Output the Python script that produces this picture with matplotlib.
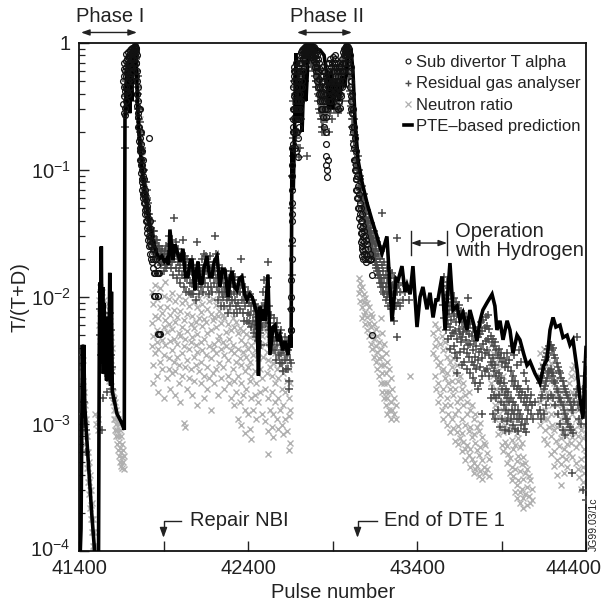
import math
import matplotlib
matplotlib.use('Agg')
import matplotlib.pyplot as plt
from matplotlib.lines import Line2D
from matplotlib.ticker import FixedLocator, FuncFormatter, LogLocator, NullFormatter
import matplotlib.transforms as mtransforms

plt.rcParams['font.family'] = ['Liberation Sans', 'DejaVu Sans']
plt.rcParams['mathtext.fontset'] = 'custom'
plt.rcParams['mathtext.rm'] = 'Liberation Sans'
plt.rcParams['mathtext.it'] = 'Liberation Sans:italic'
plt.rcParams['mathtext.bf'] = 'Liberation Sans:bold'

# ---- data (pulse number, T/(T+D)) ----
# PTE-based prediction (thick black line)
pte_pulse = [41400, 41412, 41420, 41424, 41428, 41434, 41445, 41460, 41475, 41490, 41500,
             41515, 41520, 41524, 41528, 41532, 41536, 41540, 41544, 41548, 41553, 41558, 41563,
             41570, 41576, 41582, 41587, 41592, 41597, 41610, 41625, 41640, 41655, 41668,
             41672, 41677, 41682, 41688, 41694, 41700, 41706, 41712, 41718, 41724, 41730, 41736,
             41741, 41746, 41752, 41760, 41770, 41782, 41795, 41808, 41820, 41833, 41846, 41860,
             41875, 41890, 41905, 41918, 41930,
             41938, 41956, 41968, 41998, 42015, 42030, 42045, 42058, 42069, 42086, 42095, 42104,
             42116, 42128, 42140, 42157, 42172, 42187, 42200, 42217, 42234, 42248, 42264, 42282,
             42294, 42305, 42320, 42335, 42350, 42364, 42380, 42394, 42410, 42424, 42440, 42453,
             42462, 42471, 42480, 42489, 42500, 42518, 42530, 42548, 42560, 42575, 42589, 42605,
             42619, 42637, 42649, 42655,
             42660, 42668, 42678, 42684, 42696, 42708, 42720, 42731, 42743, 42755, 42779, 42802,
             42826, 42850, 42867, 42879, 42891, 42903, 42921, 42938, 42956, 42974, 42992, 43009,
             43021, 43033, 43051, 43075, 43104, 43134, 43163, 43193, 43222, 43252, 43276, 43288,
             43311, 43329, 43341, 43359, 43376, 43400, 43418, 43435, 43459, 43477, 43495, 43512,
             43524, 43548, 43566, 43595, 43613, 43637, 43654, 43672, 43696, 43713, 43737, 43755,
             43773, 43790, 43814, 43844, 43861, 43873, 43891, 43909, 43933, 43950, 43968, 43992,
             44009, 44033, 44051, 44069, 44098, 44128, 44151, 44169, 44187, 44205, 44222, 44246,
             44264, 44288, 44305, 44323, 44347, 44364, 44382, 44400]
pte_value = [5e-5, 1.5e-4, 0.0042, 0.0018, 0.0042, 0.0014, 0.0008, 0.0004, 0.0002, 0.00011, 6e-5,
             6e-5, 0.004, 0.013, 0.003, 0.025, 0.004, 0.012, 0.0025, 0.009, 0.003, 0.007, 0.0022,
             0.006, 0.0025, 0.0155, 0.002, 0.011, 0.0018, 0.0015, 0.0012, 0.0011, 0.001, 0.0009,
             0.25, 0.35, 0.6, 0.3, 0.7, 0.28, 0.55, 0.35, 0.65, 0.8, 0.9, 0.88,
             0.6, 0.35, 0.22, 0.16, 0.11, 0.08, 0.06, 0.045, 0.036, 0.03, 0.025, 0.022,
             0.02, 0.021, 0.019, 0.02, 0.018,
             0.034, 0.0195, 0.026, 0.019, 0.024, 0.0145, 0.0145, 0.0195, 0.0195, 0.0113, 0.016, 0.019,
             0.0128, 0.0128, 0.017, 0.021, 0.0145, 0.0145, 0.019, 0.021, 0.012, 0.0165, 0.0163, 0.010,
             0.014, 0.016, 0.012, 0.0113, 0.014, 0.0145, 0.0105, 0.0095, 0.0105, 0.010, 0.0085, 0.0075,
             0.0024, 0.0084, 0.0065, 0.008, 0.0065, 0.015, 0.0035, 0.0058, 0.006, 0.0045, 0.005, 0.0038,
             0.0045, 0.0035, 0.005, 0.004,
             0.15, 0.07, 0.3, 0.83, 0.25, 0.5, 0.2, 0.6, 0.35, 0.75, 0.88, 0.9,
             0.88, 0.8, 0.55, 0.3, 0.6, 0.3, 0.5, 0.35, 0.55, 0.45, 0.8, 0.9,
             0.6, 0.25, 0.12, 0.08, 0.055, 0.04, 0.03, 0.022, 0.03, 0.0065, 0.014, 0.0135,
             0.0175, 0.011, 0.0125, 0.0105, 0.0175, 0.0058, 0.01, 0.012, 0.008, 0.0108, 0.0069, 0.0095,
             0.0095, 0.0145, 0.0055, 0.0185, 0.0079, 0.0085, 0.0066, 0.0075, 0.0055, 0.0079, 0.006, 0.0045,
             0.0065, 0.0079, 0.009, 0.0105, 0.0085, 0.0055, 0.0065, 0.0046, 0.0065, 0.0055, 0.0036, 0.005,
             0.0046, 0.0035, 0.0029, 0.0031, 0.0025, 0.0021, 0.0029, 0.0032, 0.0055, 0.0069, 0.0058, 0.006,
             0.0048, 0.005, 0.0042, 0.0046, 0.0027, 0.0016, 0.0011, 0.004]

# Sub divertor T alpha (open circles): (pulse, values at that pulse)
sub_divertor = [
    (41660, [0.33, 0.5]), (41664, [0.45, 0.62, 0.28]), (41668, [0.7, 0.38, 0.55]),
    (41672, [0.27, 0.31, 0.42, 0.6]), (41676, [0.55, 0.72, 0.35]), (41680, [0.65, 0.45, 0.82]),
    (41684, [0.42, 0.75, 0.58]), (41688, [0.5, 0.68, 0.85]), (41692, [0.62, 0.4, 0.78]),
    (41696, [0.8, 0.55, 0.7]), (41700, [0.45, 0.88, 0.65]), (41704, [0.7, 0.52, 0.82]),
    (41708, [0.58, 0.9, 0.75]), (41712, [0.85, 0.65, 0.5]), (41716, [0.65, 0.92, 0.78]),
    (41720, [0.9, 0.75, 0.6]), (41724, [0.75, 0.93, 0.85]), (41728, [0.92, 0.88, 0.7]),
    (41731, [0.93, 0.86, 0.95]), (41734, [0.9, 0.94, 0.8]), (41737, [0.85, 0.92, 0.7]),
    (41740, [0.7, 0.9, 0.55]), (41743, [0.5, 0.8, 0.4]), (41746, [0.4, 0.32, 0.6]),
    (41749, [0.35, 0.26]), (41752, [0.28, 0.22, 0.45]), (41755, [0.22, 0.3, 0.17]),
    (41758, [0.3, 0.18, 0.14]), (41761, [0.15, 0.2, 0.12]), (41764, [0.2, 0.11, 0.14]),
    (41767, [0.12, 0.095, 0.16]), (41770, [0.1, 0.14, 0.08]), (41773, [0.085, 0.11, 0.07]),
    (41776, [0.09, 0.065, 0.12]), (41780, [0.075, 0.1, 0.06]), (41784, [0.065, 0.055, 0.085]),
    (41788, [0.06, 0.07, 0.048]), (41792, [0.055, 0.045, 0.065]), (41796, [0.05, 0.04, 0.058]),
    (41800, [0.045, 0.035, 0.052]), (41805, [0.04, 0.032, 0.048]), (41810, [0.036, 0.028, 0.042]),
    (41814, [0.18, 0.03, 0.025]), (41818, [0.033, 0.026, 0.04]), (41822, [0.028, 0.022, 0.035]),
    (41827, [0.025, 0.03, 0.02]), (41832, [0.027, 0.022, 0.019]), (41838, [0.024, 0.02, 0.017]),
    (41845, [0.024, 0.0155, 0.0101]), (41852, [0.02, 0.0155, 0.0101]), (41860, [0.018, 0.0155]),
    (41866, [0.0155, 0.0101, 0.0051]), (41874, [0.0155, 0.0051]), (41882, [0.0051]),
    (42652, [0.0055]), (42654, [0.008, 0.0055]), (42656, [0.0136, 0.01]),
    (42658, [0.02, 0.028, 0.04]), (42660, [0.055, 0.07, 0.045]), (42662, [0.09, 0.11, 0.15]),
    (42665, [0.2, 0.25, 0.16]), (42668, [0.3, 0.45, 0.22]), (42671, [0.55, 0.38, 0.6]),
    (42674, [0.3, 0.5, 0.65, 0.2]), (42678, [0.4, 0.25, 0.6, 0.15]), (42682, [0.5, 0.3, 0.7, 0.2]),
    (42686, [0.35, 0.55, 0.14, 0.25]), (42690, [0.45, 0.3, 0.6, 0.2]), (42694, [0.25, 0.5, 0.35, 0.126]),
    (42698, [0.6, 0.4, 0.3, 0.18]), (42702, [0.35, 0.7, 0.5, 0.22]), (42706, [0.55, 0.3, 0.8, 0.4]),
    (42710, [0.7, 0.45, 0.6, 0.25]), (42714, [0.85, 0.55, 0.35, 0.7]), (42718, [0.6, 0.8, 0.45]),
    (42722, [0.88, 0.7, 0.5]), (42726, [0.9, 0.75, 0.6]), (42730, [0.92, 0.8, 0.65]),
    (42735, [0.93, 0.85, 0.7]), (42740, [0.92, 0.88, 0.75]), (42745, [0.94, 0.9, 0.8]),
    (42750, [0.93, 0.88, 0.82]), (42755, [0.95, 0.9, 0.85]), (42760, [0.93, 0.88, 0.8]),
    (42765, [0.94, 0.9, 0.85]), (42770, [0.95, 0.88, 0.8]), (42775, [0.93, 0.9, 0.82]),
    (42780, [0.94, 0.87, 0.78]), (42785, [0.92, 0.85, 0.75]), (42790, [0.93, 0.84, 0.72]),
    (42795, [0.9, 0.8, 0.65]), (42800, [0.88, 0.75, 0.6]), (42805, [0.85, 0.7, 0.55]),
    (42810, [0.8, 0.65, 0.5]), (42815, [0.75, 0.6, 0.45]), (42820, [0.7, 0.52, 0.4]),
    (42825, [0.62, 0.45, 0.35]), (42830, [0.55, 0.4, 0.3]), (42835, [0.65, 0.35, 0.5]),
    (42840, [0.45, 0.3, 0.6]), (42845, [0.4, 0.55, 0.26]), (42850, [0.5, 0.35, 0.22]),
    (42855, [0.45, 0.3, 0.6]), (42860, [0.26, 0.2, 0.16, 0.4]), (42864, [0.13, 0.11, 0.35, 0.55]),
    (42868, [0.1, 0.088, 0.3, 0.5]), (42872, [0.12, 0.5, 0.7]), (42877, [0.45, 0.6, 0.35]),
    (42882, [0.7, 0.5, 0.38]), (42887, [0.55, 0.42, 0.75]), (42892, [0.65, 0.48, 0.35]),
    (42897, [0.5, 0.7, 0.4]), (42902, [0.6, 0.45, 0.78]), (42907, [0.7, 0.5, 0.4]),
    (42912, [0.55, 0.75, 0.42]), (42917, [0.65, 0.48, 0.8]), (42922, [0.5, 0.7, 0.38]),
    (42927, [0.6, 0.45, 0.32]), (42932, [0.4, 0.55, 0.3]), (42937, [0.35, 0.5, 0.65]),
    (42942, [0.45, 0.6, 0.31]), (42947, [0.7, 0.5, 0.4]), (42952, [0.55, 0.38, 0.65]),
    (42957, [0.6, 0.45, 0.75]), (42962, [0.7, 0.5, 0.85]), (42967, [0.8, 0.6, 0.9]),
    (42972, [0.85, 0.7, 0.92]), (42977, [0.9, 0.8, 0.93]), (42982, [0.92, 0.85, 0.95]),
    (42987, [0.94, 0.88, 0.8]), (42992, [0.93, 0.85, 0.7]), (42997, [0.9, 0.75, 0.6]),
    (43002, [0.8, 0.6, 0.45]), (43007, [0.65, 0.5, 0.35]), (43012, [0.5, 0.38, 0.3]),
    (43017, [0.4, 0.28, 0.22]), (43022, [0.3, 0.2, 0.16]), (43027, [0.22, 0.15, 0.12]),
    (43032, [0.18, 0.12, 0.1]), (43037, [0.14, 0.1, 0.085]), (43042, [0.11, 0.085, 0.07]),
    (43047, [0.09, 0.07, 0.06]), (43052, [0.075, 0.06, 0.05]), (43057, [0.065, 0.05, 0.042]),
    (43062, [0.055, 0.045, 0.036]), (43067, [0.05, 0.04, 0.032, 0.027]),
    (43072, [0.045, 0.035, 0.028, 0.024]), (43077, [0.04, 0.032, 0.025, 0.021]),
    (43082, [0.036, 0.03, 0.023, 0.02]), (43088, [0.033, 0.027, 0.022]), (43094, [0.03, 0.024, 0.02]),
    (43100, [0.028, 0.022, 0.019]), (43106, [0.026, 0.021]), (43112, [0.024, 0.02]),
    (43120, [0.022, 0.0195]), (43128, [0.02]), (43136, [0.0149, 0.005]),
]

# Residual gas analyser (dark grey plus)
rga = [
    (41420, [0.0035, 0.0012]), (41430, [0.0015, 0.001]), (41440, [0.0009, 0.0006]),
    (41525, [0.008, 0.005]), (41530, [0.0035, 0.011]), (41535, [0.0065, 0.0009]),
    (41540, [0.0045, 0.0016, 0.003]), (41546, [0.0075, 0.0055]), (41552, [0.0025, 0.004]),
    (41558, [0.006, 0.0035]), (41564, [0.005, 0.0018, 0.0028]), (41570, [0.0042, 0.0065]),
    (41576, [0.003, 0.0045]), (41582, [0.0022, 0.0075]), (41588, [0.0035, 0.0055, 0.0025]),
    (41594, [0.0019, 0.0028]), (41600, [0.0016]),
    (41672, [0.15, 0.22]), (41676, [0.3, 0.45]), (41680, [0.5, 0.38]), (41684, [0.4, 0.62]),
    (41688, [0.6, 0.48]), (41692, [0.45, 0.7]), (41696, [0.65, 0.52]), (41700, [0.35, 0.6]),
    (41704, [0.55, 0.75]), (41708, [0.75, 0.62]), (41712, [0.5, 0.8]), (41716, [0.7, 0.58]),
    (41720, [0.6, 0.82]), (41724, [0.8, 0.68]), (41728, [0.7, 0.85]), (41732, [0.85, 0.72]),
    (41736, [0.6, 0.78]), (41740, [0.75, 0.5]), (41744, [0.45, 0.6]), (41748, [0.55, 0.35]),
    (41752, [0.3, 0.4]), (41756, [0.25, 0.3]), (41760, [0.2, 0.24]), (41765, [0.16, 0.19]),
    (41770, [0.12, 0.15]), (41775, [0.14, 0.11]), (41780, [0.1, 0.085]), (41785, [0.085, 0.1]),
    (41790, [0.07, 0.08]), (41795, [0.08, 0.062]), (41800, [0.06, 0.07]), (41805, [0.05, 0.058]),
    (41810, [0.055, 0.045]), (41815, [0.045, 0.038]), (41820, [0.04, 0.034]), (41825, [0.035, 0.03]),
    (41830, [0.04, 0.028]), (41835, [0.03, 0.026]), (41840, [0.028, 0.033]), (41845, [0.033, 0.024]),
    (41850, [0.025, 0.022]), (41855, [0.023, 0.028]), (41860, [0.028, 0.02]), (41866, [0.021, 0.025]),
    (41872, [0.025, 0.019]), (41878, [0.02, 0.023]), (41885, [0.022, 0.018]), (41892, [0.019, 0.024]),
    (41900, [0.021, 0.016]), (41908, [0.018, 0.023]),
    (41915, [0.025, 0.017]), (41922, [0.018, 0.022]), (41930, [0.03, 0.02]), (41937, [0.02, 0.026]),
    (41944, [0.017, 0.022]), (41951, [0.028, 0.019]), (41958, [0.024, 0.015]), (41965, [0.02, 0.042]),
    (41972, [0.027, 0.017]), (41979, [0.022, 0.014]), (41986, [0.019, 0.024]), (41993, [0.016, 0.021]),
    (42000, [0.013, 0.018]), (42007, [0.022, 0.015]), (42014, [0.019, 0.028]), (42021, [0.012, 0.017]),
    (42028, [0.021, 0.014]), (42035, [0.018, 0.011]), (42042, [0.014, 0.02]), (42049, [0.017, 0.011]),
    (42056, [0.013, 0.018]), (42063, [0.016, 0.0105]), (42070, [0.02, 0.013]), (42077, [0.017, 0.0105]),
    (42084, [0.012, 0.015]), (42091, [0.016, 0.0095]), (42098, [0.027, 0.014]), (42105, [0.012, 0.018]),
    (42112, [0.014, 0.0105]), (42119, [0.016, 0.012]), (42126, [0.02, 0.013]), (42133, [0.017, 0.011]),
    (42140, [0.022, 0.014]), (42147, [0.018, 0.013]), (42154, [0.016, 0.021]), (42161, [0.019, 0.012]),
    (42168, [0.016, 0.0105]), (42175, [0.021, 0.014]), (42182, [0.017, 0.012]), (42189, [0.015, 0.011]),
    (42196, [0.019, 0.013]), (42203, [0.03, 0.016]), (42210, [0.022, 0.014]), (42217, [0.018, 0.012]),
    (42224, [0.014, 0.0095]), (42231, [0.016, 0.011]), (42238, [0.013, 0.0085]), (42245, [0.017, 0.011]),
    (42252, [0.014, 0.01]), (42259, [0.012, 0.0085]), (42266, [0.016, 0.011]), (42273, [0.013, 0.0095]),
    (42280, [0.011, 0.0075]), (42287, [0.014, 0.01]), (42294, [0.012, 0.0085]), (42301, [0.016, 0.0105]),
    (42308, [0.013, 0.0095]), (42315, [0.011, 0.0075]), (42322, [0.0145, 0.0095]), (42329, [0.012, 0.0085]),
    (42336, [0.0105, 0.0075]), (42343, [0.0135, 0.009]), (42350, [0.011, 0.008]), (42357, [0.02, 0.0125]),
    (42364, [0.0145, 0.0095]), (42371, [0.011, 0.0075]), (42378, [0.0095, 0.0065]), (42385, [0.012, 0.0085]),
    (42392, [0.0095, 0.0065]), (42399, [0.011, 0.0075]), (42406, [0.009, 0.0062]), (42413, [0.0105, 0.0072]),
    (42420, [0.0085, 0.0058]), (42427, [0.0095, 0.0065]), (42434, [0.0078, 0.0052]), (42441, [0.0088, 0.006]),
    (42448, [0.007, 0.0048]), (42455, [0.0082, 0.0056]), (42462, [0.0065, 0.0045]), (42469, [0.0078, 0.0052]),
    (42476, [0.006, 0.0042]), (42483, [0.0085, 0.0058]), (42490, [0.011, 0.0072]), (42497, [0.0135, 0.0085]),
    (42504, [0.0095, 0.0062]), (42511, [0.012, 0.0075]), (42518, [0.019, 0.014]), (42525, [0.0085, 0.0055]),
    (42532, [0.0062, 0.0042]), (42539, [0.0072, 0.0048]), (42546, [0.0055, 0.0038]), (42553, [0.0068, 0.0045]),
    (42560, [0.0058, 0.0038]), (42567, [0.0048, 0.0032]), (42574, [0.0062, 0.0042]), (42581, [0.0052, 0.0035]),
    (42588, [0.0045, 0.003]), (42595, [0.0055, 0.0036]), (42602, [0.0045, 0.003]), (42609, [0.0038, 0.0026]),
    (42616, [0.0048, 0.0032]), (42623, [0.004, 0.0027]), (42630, [0.0045, 0.0035]), (42637, [0.0027, 0.0038]),
    (42644, [0.0022, 0.0019]), (42650, [0.0032]),
    (42655, [0.003, 0.008]), (42658, [0.015, 0.025]), (42661, [0.05, 0.09]), (42664, [0.13, 0.18]),
    (42667, [0.25, 0.35]), (42670, [0.15, 0.45]), (42675, [0.5, 0.3, 0.2]), (42680, [0.4, 0.25, 0.6]),
    (42685, [0.3, 0.18, 0.5]), (42690, [0.4, 0.2, 0.28]), (42695, [0.2, 0.32, 0.15]), (42700, [0.3, 0.45, 0.126]),
    (42705, [0.15, 0.25, 0.4]), (42710, [0.45, 0.3, 0.6]), (42715, [0.25, 0.55, 0.35]), (42720, [0.6, 0.4, 0.75]),
    (42725, [0.35, 0.5, 0.8]), (42730, [0.7, 0.55, 0.85]), (42735, [0.5, 0.75, 0.85]), (42740, [0.8, 0.65, 0.88]),
    (42745, [0.6, 0.82, 0.9]), (42750, [0.85, 0.7, 0.13]), (42755, [0.7, 0.88, 0.8]), (42760, [0.88, 0.75, 0.82]),
    (42765, [0.75, 0.85, 0.9]), (42770, [0.85, 0.7, 0.8]), (42775, [0.7, 0.8, 0.88]), (42780, [0.8, 0.65, 0.75]),
    (42785, [0.65, 0.78, 0.7]), (42790, [0.75, 0.6, 0.7]), (42795, [0.55, 0.7, 0.62]), (42800, [0.7, 0.5, 0.6]),
    (42805, [0.5, 0.62, 0.45]), (42810, [0.6, 0.45, 0.55]), (42815, [0.4, 0.52, 0.35]), (42820, [0.5, 0.38, 0.3]),
    (42825, [0.35, 0.45, 0.28]), (42830, [0.3, 0.4, 0.25]), (42835, [0.45, 0.28, 0.22]), (42840, [0.25, 0.35, 0.2]),
    (42845, [0.35, 0.22, 0.3]), (42850, [0.2, 0.3, 0.25]), (42855, [0.3, 0.2, 0.4]), (42860, [0.4, 0.25, 0.35]),
    (42865, [0.25, 0.5, 0.3]), (42870, [0.5, 0.3, 0.42]), (42875, [0.3, 0.45, 0.35]), (42880, [0.2, 0.38, 0.55]),
    (42885, [0.35, 0.48, 0.28]), (42890, [0.45, 0.3, 0.6]), (42895, [0.25, 0.42, 0.52]), (42900, [0.55, 0.35, 0.45]),
    (42905, [0.35, 0.5, 0.62]), (42910, [0.6, 0.42, 0.3]), (42915, [0.4, 0.55, 0.35]), (42920, [0.3, 0.48, 0.62]),
    (42925, [0.5, 0.35, 0.42]), (42930, [0.65, 0.45, 0.3]), (42935, [0.4, 0.55, 0.28]), (42940, [0.55, 0.35, 0.45]),
    (42945, [0.3, 0.48, 0.6]), (42950, [0.6, 0.4, 0.5]), (42955, [0.45, 0.62, 0.35]), (42960, [0.7, 0.5, 0.58]),
    (42965, [0.5, 0.68, 0.6]), (42970, [0.75, 0.6, 0.7]), (42975, [0.6, 0.78, 0.7]), (42980, [0.8, 0.65, 0.72]),
    (42985, [0.65, 0.82, 0.75]), (42990, [0.85, 0.7, 0.6]), (42995, [0.7, 0.8, 0.55]), (43000, [0.8, 0.55, 0.45]),
    (43005, [0.55, 0.42, 0.35]), (43010, [0.4, 0.32, 0.28]), (43015, [0.3, 0.25, 0.22]), (43020, [0.22, 0.19, 0.25]),
    (43025, [0.25, 0.17, 0.2]), (43030, [0.17, 0.14, 0.19]), (43035, [0.19, 0.12, 0.15]), (43040, [0.14, 0.11, 0.12]),
    (43045, [0.12, 0.095, 0.105]), (43050, [0.13, 0.085, 0.1]), (43055, [0.1, 0.08, 0.09]), (43060, [0.085, 0.07, 0.075]),
    (43065, [0.09, 0.065, 0.072]), (43070, [0.07, 0.058, 0.062]), (43075, [0.075, 0.055, 0.06]), (43080, [0.06, 0.05, 0.052]),
    (43085, [0.065, 0.045, 0.05]), (43090, [0.05, 0.042, 0.045]), (43095, [0.055, 0.04, 0.043]), (43100, [0.045, 0.036, 0.04]),
    (43105, [0.048, 0.034, 0.038]), (43110, [0.04, 0.032, 0.035]), (43115, [0.042, 0.029, 0.033]), (43120, [0.035, 0.027, 0.03]),
    (43125, [0.038, 0.026, 0.029]), (43130, [0.032, 0.024, 0.027]), (43135, [0.03, 0.022, 0.025]), (43140, [0.028, 0.021, 0.023]),
    (43145, [0.033, 0.02, 0.022]), (43150, [0.026, 0.019, 0.021]), (43155, [0.029, 0.018, 0.02]), (43160, [0.024, 0.017, 0.019]),
    (43165, [0.027, 0.016, 0.018]), (43170, [0.022, 0.015, 0.017]), (43175, [0.025, 0.016, 0.014]), (43180, [0.02, 0.015, 0.013]),
    (43185, [0.023, 0.014, 0.012]), (43193, [0.046, 0.018, 0.013]), (43200, [0.016, 0.012, 0.011]), (43207, [0.019, 0.014, 0.0105]),
    (43214, [0.015, 0.012, 0.0095]), (43221, [0.017, 0.013, 0.01]), (43228, [0.014, 0.011, 0.0085]), (43235, [0.016, 0.012]),
    (43242, [0.013, 0.0105]), (43250, [0.0155, 0.011, 0.008]), (43258, [0.0125, 0.009]), (43266, [0.014, 0.0105, 0.0065]),
    (43274, [0.012, 0.0085]), (43282, [0.029, 0.011, 0.0048]), (43290, [0.0125, 0.009]), (43300, [0.011, 0.0085]),
    (43315, [0.0095, 0.013]), (43330, [0.011]), (43350, [0.0095]),
    (43555, [0.0122, 0.0087]), (43562, [0.0145, 0.0068]), (43569, [0.0103, 0.0079, 0.0055]),
    (43576, [0.0131, 0.0092]), (43583, [0.0096, 0.0061, 0.0047]), (43590, [0.0118, 0.0074]),
    (43597, [0.0085, 0.0058, 0.0039]), (43604, [0.0107, 0.0066, 0.0049]), (43611, [0.0079, 0.0052]),
    (43618, [0.0098, 0.0071, 0.0041]), (43625, [0.0082, 0.0054, 0.0036]), (43632, [0.0091, 0.0063]),
    (43637, [0.0025]), (43639, [0.0073, 0.0047, 0.0033]), (43646, [0.0086, 0.0056]),
    (43653, [0.0069, 0.0051, 0.0037]), (43660, [0.0078, 0.0044]), (43667, [0.0064, 0.0048, 0.0029]),
    (43674, [0.0075, 0.0053]), (43681, [0.0058, 0.0039, 0.0031]), (43688, [0.0069, 0.0046]),
    (43695, [0.0054, 0.0036, 0.0027]), (43702, [0.0098, 0.0063, 0.0042]), (43709, [0.0051, 0.0034]),
    (43716, [0.0061, 0.0043, 0.0025]), (43723, [0.0049, 0.0031]), (43730, [0.0057, 0.0038, 0.0023]),
    (43737, [0.0045, 0.0029]), (43744, [0.0053, 0.0034, 0.0021]), (43751, [0.0041, 0.0027]),
    (43758, [0.0048, 0.0032, 0.0019]), (43765, [0.0058, 0.0037]), (43772, [0.0051, 0.0028, 0.0021]),
    (43779, [0.0063, 0.0039]), (43785, [0.0012]), (43786, [0.0054, 0.0033, 0.0024]),
    (43793, [0.0066, 0.0043]), (43800, [0.0057, 0.0036, 0.0026]), (43807, [0.0069, 0.0045]),
    (43814, [0.0059, 0.0038, 0.0027]), (43821, [0.0072, 0.0047]), (43828, [0.0056, 0.0035, 0.0024]),
    (43835, [0.0049, 0.0031, 0.0016]), (43842, [0.0044, 0.0029, 0.0019]), (43849, [0.0047, 0.0033, 0.0012]),
    (43856, [0.0041, 0.0026, 0.0017]), (43863, [0.0044, 0.0029, 0.0011]), (43870, [0.0038, 0.0024, 0.0016]),
    (43877, [0.0035, 0.0022, 0.0013]), (43884, [0.0039, 0.0025, 0.0017]), (43891, [0.0033, 0.0021, 0.00095]),
    (43898, [0.0036, 0.0023, 0.0015]), (43905, [0.0031, 0.0019, 0.0011]), (43912, [0.0033, 0.0021, 0.0014]),
    (43919, [0.0028, 0.0017, 0.0009]), (43926, [0.003, 0.0019, 0.0013]), (43933, [0.0036, 0.0016, 0.00105]),
    (43940, [0.0028, 0.0018, 0.0012]), (43947, [0.0032, 0.0015, 0.00088]), (43954, [0.0026, 0.0016, 0.0011]),
    (43961, [0.0041, 0.0022, 0.0013]), (43968, [0.0024, 0.0015, 0.00098]), (43975, [0.0035, 0.002, 0.0012]),
    (43982, [0.0022, 0.0014, 0.00092]), (43989, [0.0029, 0.0019, 0.0011]), (43996, [0.002, 0.0013, 0.00088]),
    (44003, [0.0038, 0.0017, 0.0011]), (44010, [0.0019, 0.0012]), (44017, [0.0031, 0.0016, 0.00098]),
    (44024, [0.0018, 0.0011]), (44031, [0.0025, 0.0015, 0.00091]), (44038, [0.0017, 0.001]),
    (44045, [0.0022, 0.0014, 0.00087]), (44052, [0.0016, 0.0011]), (44059, [0.0019, 0.0013]), (44066, [0.0015]),
    (44073, [0.0017, 0.0012]), (44080, [0.0014]), (44087, [0.0011]), (44100, [0.0015]), (44115, [0.0012]),
    (44128, [0.0021, 0.0013]), (44135, [0.0024, 0.0016, 0.0011]), (44142, [0.0027, 0.0017]),
    (44149, [0.0029, 0.0019, 0.0012]), (44156, [0.0032, 0.002]), (44163, [0.0034, 0.0022, 0.0014]),
    (44170, [0.0036, 0.0023]), (44177, [0.0039, 0.0025, 0.0016]), (44184, [0.0041, 0.0026]),
    (44191, [0.0042, 0.0027, 0.0017]), (44198, [0.0038, 0.0024]), (44205, [0.004, 0.0025, 0.0016]),
    (44212, [0.0035, 0.0022]), (44219, [0.0033, 0.0021, 0.0014]), (44226, [0.003, 0.0019]),
    (44233, [0.0028, 0.0018, 0.0012]), (44240, [0.0026, 0.0016]), (44247, [0.0025, 0.0016, 0.001]),
    (44254, [0.0023, 0.0015]), (44261, [0.0022, 0.0014, 0.0009]), (44268, [0.002, 0.0013]),
    (44275, [0.0019, 0.0012, 0.00082]), (44282, [0.0018, 0.0011]), (44289, [0.0017, 0.0011]),
    (44296, [0.0016, 0.001]), (44303, [0.0015, 0.00095]), (44310, [0.0014, 0.0009]),
    (44317, [0.0013, 0.00041]), (44324, [0.0013, 0.00085]), (44331, [0.0015]), (44338, [0.0017]),
    (44347, [0.0048, 0.0019]), (44354, [0.0014]), (44361, [0.0011]), (44370, [0.001]),
    (44377, [0.0013]), (44382, [0.0003]), (44384, [0.0019]), (44391, [0.0024]), (44398, [0.0031, 0.00025]),
]

# Neutron ratio (light grey x)
neutron = [
    (41418, [0.0028, 0.002]), (41424, [0.0032, 0.0022, 0.0015]), (41430, [0.0018, 0.0012, 0.0009]),
    (41436, [0.0014, 0.001, 0.0007]), (41442, [0.0011, 0.0008, 0.0006]), (41448, [0.0008, 0.0006, 0.00045]),
    (41454, [0.0006, 0.00045, 0.00035]), (41460, [0.0005, 0.00035, 0.00028]), (41466, [0.0004, 0.0003, 0.00022]),
    (41472, [0.0003, 0.00023, 0.00018]), (41478, [0.00024, 0.00018, 0.00014]), (41484, [0.00018, 0.00014, 0.00011]),
    (41490, [0.00014, 0.00011]), (41496, [0.0012, 0.00011]), (41503, [0.001]), (41510, [0.0009, 0.0011]),
    (41520, [0.0095, 0.006]), (41525, [0.012, 0.0075, 0.0045]), (41530, [0.009, 0.0065, 0.004]),
    (41535, [0.011, 0.0055, 0.0035]), (41540, [0.008, 0.005, 0.003]), (41545, [0.0095, 0.006, 0.0042]),
    (41550, [0.0072, 0.0048, 0.0028]), (41555, [0.0085, 0.0055, 0.0036]), (41560, [0.0065, 0.0042, 0.0026]),
    (41565, [0.0075, 0.005, 0.0032]), (41570, [0.0058, 0.0038, 0.0024]), (41575, [0.0068, 0.0044, 0.0029]),
    (41580, [0.005, 0.0034, 0.0022]), (41585, [0.0065, 0.0042, 0.0027]), (41590, [0.0048, 0.0032, 0.002]),
    (41595, [0.004, 0.0026, 0.0018]), (41600, [0.0018, 0.0015]), (41606, [0.0016, 0.0013, 0.0011]),
    (41612, [0.0015, 0.0011, 0.0009]), (41618, [0.0013, 0.001, 0.0008]), (41624, [0.0012, 0.0009, 0.0007]),
    (41630, [0.0011, 0.0008, 0.00062]), (41636, [0.001, 0.00072, 0.00056]), (41642, [0.0009, 0.00065, 0.0005]),
    (41648, [0.0008, 0.0006, 0.00047]), (41654, [0.0007, 0.00055, 0.00045]), (41660, [0.00062, 0.0005]),
    (41666, [0.00056, 0.00044]),
    (41690, [0.45, 0.6]), (41705, [0.5, 0.7]), (41720, [0.65, 0.8]), (41735, [0.6, 0.75]),
    (41748, [0.45, 0.3]), (41760, [0.25, 0.17]), (41772, [0.13, 0.1]), (41785, [0.08, 0.065]),
    (41798, [0.055, 0.045]), (41810, [0.04, 0.032]), (41822, [0.03, 0.025]),
    (41830, [0.011, 0.0062, 0.0041]), (41840, [0.0088, 0.0049, 0.0029, 0.0021]), (41850, [0.0125, 0.0071, 0.0036]),
    (41860, [0.0096, 0.0055, 0.0044, 0.0024]), (41870, [0.0068, 0.0039, 0.0018]), (41880, [0.0118, 0.0083, 0.0052, 0.0031]),
    (41890, [0.0075, 0.0046, 0.0027]), (41900, [0.0101, 0.0058, 0.0035, 0.0016]), (41910, [0.0131, 0.0066, 0.0042]),
    (41920, [0.0084, 0.0053, 0.0023]), (41930, [0.0097, 0.0061, 0.0033, 0.0027]), (41940, [0.0072, 0.0045, 0.0019]),
    (41950, [0.0108, 0.0056, 0.0038, 0.0025]), (41960, [0.0079, 0.0047, 0.0031]), (41970, [0.0093, 0.0064, 0.0026, 0.0017]),
    (41980, [0.0069, 0.0043, 0.0034]), (41990, [0.0102, 0.0052, 0.0029, 0.0021]), (42000, [0.0077, 0.0049, 0.0015]),
    (42010, [0.0089, 0.0058, 0.0036, 0.0024]), (42020, [0.0066, 0.0041, 0.00102]), (42030, [0.0094, 0.0047, 0.0028, 0.00094]),
    (42040, [0.0073, 0.0054, 0.0032, 0.0019]), (42050, [0.0085, 0.0039, 0.0023]), (42060, [0.0106, 0.0061, 0.0044, 0.0027]),
    (42070, [0.0071, 0.0048, 0.0017]), (42080, [0.0091, 0.0057, 0.0034, 0.0022]), (42090, [0.0064, 0.0042, 0.0029]),
    (42100, [0.0083, 0.0051, 0.0037, 0.0014]), (42110, [0.0099, 0.0068, 0.0026]), (42120, [0.0076, 0.0044, 0.0031, 0.0021]),
    (42130, [0.0088, 0.0059, 0.0038]), (42140, [0.0067, 0.0047, 0.0024, 0.0016]), (42150, [0.0104, 0.0063, 0.0035]),
    (42160, [0.0081, 0.0052, 0.0028, 0.0019]), (42170, [0.0093, 0.0041, 0.0023]), (42180, [0.0074, 0.0055, 0.0033, 0.0013]),
    (42190, [0.0097, 0.0066, 0.0039, 0.0025]), (42200, [0.0069, 0.0043, 0.0021]), (42210, [0.0086, 0.0058, 0.0036, 0.0027]),
    (42220, [0.0112, 0.0071, 0.0046, 0.0017]), (42230, [0.0078, 0.0049, 0.003]), (42240, [0.0095, 0.0062, 0.0039, 0.0023]),
    (42250, [0.0072, 0.0044, 0.0028]), (42260, [0.0108, 0.0068, 0.0035, 0.0019]), (42270, [0.0084, 0.0053, 0.0041]),
    (42280, [0.0099, 0.0061, 0.0032, 0.0024]), (42290, [0.0077, 0.0047, 0.0021]), (42300, [0.0089, 0.0055, 0.0038, 0.0016]),
    (42310, [0.0068, 0.0042, 0.0027]), (42320, [0.0058, 0.0036, 0.0022, 0.0014]), (42330, [0.0063, 0.0031, 0.0018]),
    (42340, [0.0052, 0.0039, 0.0024, 0.0011]), (42350, [0.0057, 0.0033, 0.0015]), (42360, [0.0046, 0.0029, 0.0021, 0.00098]),
    (42370, [0.0054, 0.0037, 0.0017]), (42380, [0.0043, 0.0026, 0.0013, 0.00085]), (42390, [0.0051, 0.0034, 0.0019]),
    (42400, [0.0039, 0.0028, 0.0012]), (42410, [0.0048, 0.0031, 0.0022, 0.00092]), (42420, [0.0042, 0.0024, 0.0016, 0.00076]),
    (42430, [0.0055, 0.0035, 0.0013]), (42440, [0.0062, 0.0038, 0.0026, 0.0017]), (42450, [0.0069, 0.0045, 0.0021, 0.0011]),
    (42460, [0.0053, 0.0033, 0.0015]), (42470, [0.0061, 0.0041, 0.0027, 0.0018]), (42480, [0.0078, 0.0049, 0.0023, 0.0012]),
    (42490, [0.0087, 0.0056, 0.0034]), (42500, [0.0066, 0.0043, 0.0019, 0.00105]), (42510, [0.0058, 0.0037, 0.0025]),
    (42518, [0.00058]), (42520, [0.0051, 0.0032, 0.0016, 0.00088]), (42530, [0.0044, 0.0028, 0.0013]),
    (42540, [0.0039, 0.0024, 0.0018, 0.00095]), (42550, [0.0047, 0.003, 0.0012, 0.00079]), (42560, [0.0036, 0.0021, 0.0015]),
    (42570, [0.0042, 0.0027, 0.0011]), (42580, [0.0034, 0.0023, 0.0016, 0.00091]), (42590, [0.0045, 0.0029, 0.0013]),
    (42600, [0.0033, 0.0019, 0.00098]), (42610, [0.0038, 0.0025, 0.0014, 0.00083]), (42620, [0.0031, 0.0018, 0.0011]),
    (42630, [0.0035, 0.0022, 0.00088]), (42640, [0.0027, 0.0016, 0.00115, 0.00062]), (42650, [0.0021, 0.0013, 0.00071]),
    (42700, [0.3, 0.5]), (42740, [0.6]), (42780, [0.7]), (42820, [0.4]), (42860, [0.3]),
    (42900, [0.45]), (42940, [0.5]), (42980, [0.7]), (43010, [0.3]),
    (43055, [0.0141, 0.0108]), (43065, [0.0128, 0.0093, 0.0116]), (43075, [0.0119, 0.0084, 0.0068]),
    (43085, [0.0106, 0.0091, 0.0072]), (43095, [0.0098, 0.0076, 0.0061]), (43105, [0.0089, 0.0069, 0.0055]),
    (43115, [0.0083, 0.0062, 0.0049]), (43125, [0.0074, 0.0058, 0.0043]), (43135, [0.0069, 0.0051, 0.0039]),
    (43145, [0.0061, 0.0047, 0.0034]), (43155, [0.0056, 0.0041, 0.0031]), (43165, [0.0049, 0.0037, 0.0027]),
    (43175, [0.0044, 0.0033, 0.0024]), (43185, [0.0068, 0.0039, 0.0029, 0.0021]), (43195, [0.0052, 0.0034, 0.0025, 0.0018]),
    (43205, [0.0043, 0.0029, 0.0021, 0.0016]), (43215, [0.0036, 0.0025, 0.0018, 0.0014]), (43225, [0.0031, 0.0021, 0.0016, 0.0012]),
    (43235, [0.0027, 0.0018, 0.0013]), (43245, [0.0023, 0.0015, 0.0011]), (43255, [0.0019, 0.0013]),
    (43265, [0.0016, 0.0012]), (43275, [0.0014, 0.0011]),
    (43290, [0.012, 0.0095]), (43310, [0.011]), (43359, [0.0024]),
    (43495, [0.0052, 0.0036]), (43505, [0.0061, 0.0041, 0.0024]), (43515, [0.0047, 0.0033, 0.0019]),
    (43525, [0.0056, 0.0029, 0.0021, 0.0015]), (43535, [0.0043, 0.0031, 0.0017]), (43545, [0.0049, 0.0026, 0.0013]),
    (43555, [0.0038, 0.0027, 0.0019, 0.0011]), (43565, [0.0044, 0.0023, 0.0014]), (43575, [0.0034, 0.0025, 0.0016, 0.00098]),
    (43585, [0.0039, 0.0021, 0.0012]), (43595, [0.0031, 0.0019, 0.0014, 0.00087]), (43605, [0.0028, 0.0022, 0.0011]),
    (43615, [0.0033, 0.0017, 0.00093]), (43625, [0.0025, 0.0019, 0.0012, 0.00074]), (43635, [0.0029, 0.0015, 0.00086]),
    (43645, [0.0022, 0.0013, 0.00097, 0.00069]), (43655, [0.0024, 0.0016, 0.00078]), (43665, [0.0019, 0.0011, 0.00085, 0.00061]),
    (43675, [0.0021, 0.0014, 0.00072]), (43685, [0.0017, 0.00098, 0.00063, 0.00052]), (43695, [0.0015, 0.0012, 0.00068]),
    (43705, [0.0018, 0.00088, 0.00057]), (43715, [0.0013, 0.00094, 0.00064, 0.00046]), (43725, [0.0014, 0.00079, 0.00053]),
    (43735, [0.0011, 0.00083, 0.00049, 0.00041]), (43745, [0.0012, 0.00071, 0.00044]), (43755, [0.00095, 0.00062, 0.00047]),
    (43765, [0.00088, 0.00057, 0.00039]), (43775, [0.00101, 0.00066, 0.00043]), (43785, [0.00079, 0.00052, 0.00037]),
    (43795, [0.00071, 0.00046]), (43805, [0.00068, 0.00041]), (43815, [0.00059, 0.00044]), (43825, [0.00053, 0.00039]),
    (43840, [0.0042, 0.0029, 0.0021]), (43850, [0.0036, 0.0024, 0.0016]), (43860, [0.0031, 0.0027, 0.0014, 0.0011]),
    (43870, [0.0034, 0.0019, 0.0013]), (43880, [0.0026, 0.0017, 0.00115, 0.00083]), (43890, [0.0029, 0.0015, 0.00094]),
    (43900, [0.0022, 0.0018, 0.0011, 0.00068]), (43910, [0.0024, 0.0013, 0.00086, 0.00061]), (43920, [0.0018, 0.00099, 0.00072]),
    (43930, [0.0015, 0.0011, 0.00067, 0.00049]), (43940, [0.0017, 0.00089, 0.00058]), (43950, [0.0013, 0.00096, 0.00054, 0.00041]),
    (43960, [0.0011, 0.00075, 0.00046, 0.00036]), (43970, [0.00125, 0.00063, 0.00039]), (43980, [0.00092, 0.00068, 0.00044, 0.00029]),
    (43990, [0.00085, 0.00051, 0.00033, 0.00026]), (44000, [0.00077, 0.00056, 0.00036]), (44010, [0.00066, 0.00043, 0.00029, 0.00024]),
    (44020, [0.00071, 0.00048, 0.00031]), (44030, [0.00055, 0.00037, 0.00026, 0.00022]), (44040, [0.00049, 0.00041, 0.00028]),
    (44050, [0.00044, 0.00032, 0.00023]), (44060, [0.00039, 0.00027]), (44070, [0.00036, 0.00024]), (44080, [0.00031, 0.00025]),
    (44130, [0.0036, 0.0024, 0.0015, 0.00098]), (44140, [0.0029, 0.0019, 0.0012]), (44150, [0.0039, 0.0027, 0.0016, 0.0011, 0.00076]),
    (44160, [0.0031, 0.0021, 0.0013, 0.00089]), (44170, [0.0034, 0.0018, 0.0011, 0.00069]), (44180, [0.0027, 0.0016, 0.00094]),
    (44190, [0.003, 0.0022, 0.0012, 0.00081, 0.00058]), (44200, [0.0025, 0.0014, 0.00099]),
    (44210, [0.0021, 0.0017, 0.00089, 0.00061, 0.00047]), (44220, [0.0019, 0.0012, 0.00074]),
    (44230, [0.0023, 0.0014, 0.00095, 0.00052, 0.0004]), (44240, [0.0016, 0.00099, 0.00067]),
    (44250, [0.0018, 0.0011, 0.00078, 0.00048, 0.00033]), (44260, [0.0014, 0.00087, 0.00056]),
    (44270, [0.0012, 0.00093, 0.00064, 0.00041]), (44280, [0.0015, 0.00081, 0.00053]),
    (44290, [0.0017, 0.0011, 0.00069, 0.00046]), (44300, [0.0021, 0.0013, 0.00088, 0.00059]),
    (44310, [0.0024, 0.0016, 0.00097, 0.00071]), (44320, [0.0027, 0.0018, 0.0012, 0.00079, 0.00055]),
    (44330, [0.0029, 0.0015, 0.00092]), (44340, [0.0023, 0.0017, 0.0011, 0.00066, 0.00049]),
    (44350, [0.0019, 0.0013, 0.00081, 0.00044]), (44360, [0.0016, 0.00098, 0.00071, 0.00038]),
    (44370, [0.0014, 0.00089, 0.00053, 0.00031]), (44380, [0.0012, 0.00077, 0.00046, 0.00035]),
    (44390, [0.00098, 0.00064, 0.00041]), (44398, [0.00085, 0.00057]),
]

x_ticks = [41400, 41900, 42400, 42900, 43400, 43900, 44400]
y_ticks = [1e-4, 1e-3, 1e-2, 1e-1, 1]


def unpack(columns):
    xs, ys = [], []
    for pulse, vals in columns:
        for v in vals:
            xs.append(pulse)
            ys.append(v)
    return xs, ys


TXT = '#222222'
fig = plt.figure(figsize=(6.1, 6.06), dpi=100)
ax = fig.add_axes([79 / 610, 1 - 551 / 606, 507 / 610, 508 / 606])
ax.set_yscale('log')

nx, ny = unpack(neutron)
rx, ry = unpack(rga)
cx, cy = unpack(sub_divertor)

ax.plot(nx, ny, ls='none', marker='x', ms=5, mew=1.0, color='#b0b0b0', zorder=2)
ax.plot(rx, ry, ls='none', marker='+', ms=6, mew=1.1, color='#4a4a4a', zorder=3)
ax.plot(pte_pulse, pte_value, color='black', lw=2.6, solid_joinstyle='miter', zorder=4)
ax.plot(cx, cy, ls='none', marker='o', ms=4.2, mew=0.9, mfc='none', mec='#111111', zorder=5)

ax.set_xlim(41400, 44400)
ax.set_ylim(1e-4, 1)

ax.xaxis.set_major_locator(FixedLocator(x_ticks))
ax.xaxis.set_major_formatter(FuncFormatter(lambda v, p: '%d' % v if int(v) % 1000 == 400 else ''))
ax.yaxis.set_major_locator(FixedLocator(y_ticks))
ax.yaxis.set_major_formatter(FuncFormatter(lambda v, p: '1' if v >= 1 else r'$10^{%d}$' % round(math.log10(v))))
ax.yaxis.set_minor_locator(LogLocator(base=10, subs=range(2, 10)))
ax.yaxis.set_minor_formatter(NullFormatter())
ax.tick_params(axis='both', which='major', direction='in', length=7, width=1.0,
               labelsize=14.5, colors=TXT, pad=6)
ax.tick_params(axis='y', which='minor', direction='in', length=4, width=0.9, colors=TXT)
ax.tick_params(top=False, right=False, which='both')
for s in ax.spines.values():
    s.set_linewidth(1.3)
    s.set_color('#111111')

fig.text(20 / 610, 1 - 297 / 606, 'T/(T+D)', rotation=90, ha='center', va='center', fontsize=14.5, color=TXT)
fig.text(333 / 610, 1 - 592 / 606, 'Pulse number', ha='center', va='center', fontsize=14.5, color=TXT)
fig.text(594 / 610, 1 - 524 / 606, 'JG99.03/1c', rotation=90, ha='center', va='center', fontsize=7.5, color=TXT)

# phase arrows above the frame
trans = mtransforms.blended_transform_factory(ax.transData, ax.transAxes)
arrow_kw = dict(arrowstyle='<|-|>,head_length=0.5,head_width=0.18', lw=1.0, color='#222222',
                shrinkA=0, shrinkB=0, mutation_scale=10)
for x0, x1, xt, label in [(41412, 41743, 41583, 'Phase I'), (42690, 43015, 42867, 'Phase II')]:
    ax.annotate('', xy=(x0, 1.0207), xytext=(x1, 1.0207), xycoords=trans, textcoords=trans,
                arrowprops=arrow_kw, annotation_clip=False)
    ax.text(xt, 1.053, label, transform=trans, ha='center', va='center', fontsize=14.5, color=TXT, clip_on=False)

# hydrogen operation window
ax.annotate('', xy=(43364, 0.0266), xytext=(43578, 0.0266), arrowprops=arrow_kw)
ax.plot([43364, 43364], [0.0215, 0.033], color='#222222', lw=1.0)
ax.plot([43578, 43578], [0.0215, 0.033], color='#222222', lw=1.0)
ax.text(43625, 0.0276, 'Operation\nwith Hydrogen', ha='left', va='center', fontsize=14.5,
        color=TXT, linespacing=1.05)

# bent arrows for events
for xp, xh, xt, label in [(41900, 42004, 42057, 'Repair NBI'), (43048, 43163, 43205, 'End of DTE 1')]:
    ax.plot([xh, xp, xp], [1.72e-4, 1.72e-4, 1.45e-4], color='#222222', lw=1.0)
    ax.annotate('', xy=(xp, 1.27e-4), xytext=(xp, 1.5e-4),
                arrowprops=dict(arrowstyle='-|>,head_length=0.6,head_width=0.22', lw=1.0,
                                color='#222222', shrinkA=0, shrinkB=0, mutation_scale=10))
    ax.text(xt, 1.74e-4, label, ha='left', va='center', fontsize=14.5, color=TXT)

handles = [
    Line2D([], [], ls='none', marker='o', ms=3.5, mew=0.8, mfc='none', mec='#111111'),
    Line2D([], [], ls='none', marker='+', ms=5, mew=1.0, color='#4a4a4a'),
    Line2D([], [], ls='none', marker='x', ms=4, mew=0.9, color='#b0b0b0'),
    Line2D([], [], color='black', lw=2.6),
]
labels = ['Sub divertor T alpha', 'Residual gas analyser', 'Neutron ratio', 'PTE\u2013based prediction']
leg = ax.legend(handles, labels, loc='upper left', bbox_to_anchor=((404 - 79) / 507, (551 - 55) / 508),
                frameon=False, fontsize=12, handlelength=0.5, handletextpad=0.25, labelspacing=0.38,
                borderpad=0, borderaxespad=0, numpoints=1)
for t in leg.get_texts():
    t.set_color(TXT)

# nudge the last x label inwards and the bottom y label upwards, as in the original
fig.canvas.draw()
for tick in ax.xaxis.get_major_ticks():
    if tick.label1.get_text() == '44400':
        tick.label1.set_transform(tick.label1.get_transform() +
                                  mtransforms.ScaledTranslation(-0.12, 0, fig.dpi_scale_trans))
for tick in ax.yaxis.get_major_ticks():
    if '-4' in tick.label1.get_text():
        tick.label1.set_transform(tick.label1.get_transform() +
                                  mtransforms.ScaledTranslation(0, 0.03, fig.dpi_scale_trans))

fig.savefig('out.png', dpi=100)
